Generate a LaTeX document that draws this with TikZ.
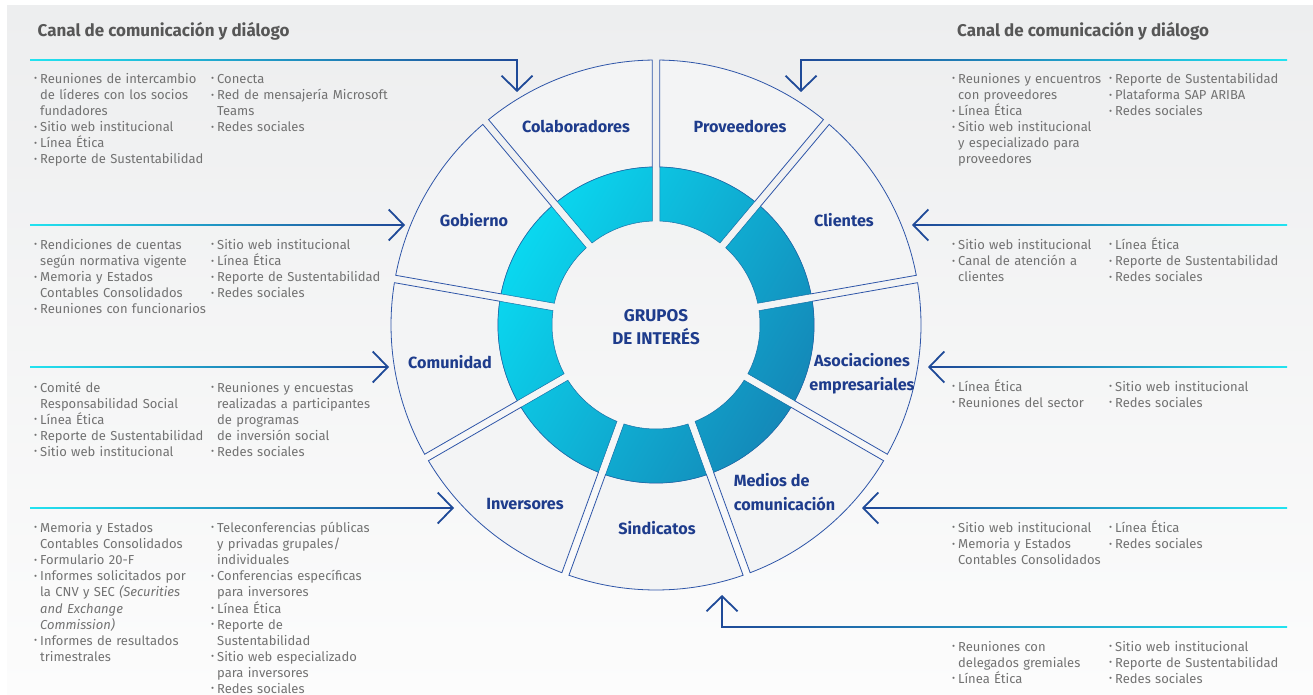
\documentclass[tikz,border=0pt]{standalone}
\usepackage{fontspec}
\setmainfont{Fira Sans}
\usepackage{graphicx}
\usetikzlibrary{arrows.meta}
\definecolor{gtxt}{HTML}{727272}
\definecolor{htxt}{HTML}{575757}
\definecolor{navytxt}{HTML}{1E3C8C}
\definecolor{outl}{HTML}{2E55A8}
\definecolor{lcyan}{HTML}{22E3F0}
\definecolor{lnavy}{HTML}{1F4A98}
\definecolor{ringA}{HTML}{0AD8F0}
\definecolor{ringB}{HTML}{1488B8}
\definecolor{ringE}{HTML}{1A72A8}
\definecolor{bgA}{HTML}{EDEEEF}
\definecolor{bgB}{HTML}{FCFCFC}
\definecolor{secfill}{HTML}{F3F4F5}
\newcommand\lbul{\makebox[6pt][l]{\raisebox{0.22ex}{\scalebox{0.72}{\textbullet}}}}
\newcommand\lind{\hspace*{6pt}}
\newcommand\hgrad[5]{\shade[left color=#4,right color=#5] (#1,#3-0.9) rectangle (#2,#3+0.9);}
\tikzset{
  lst/.style={anchor=base west, inner sep=0pt, text width=260pt, align=left, text=gtxt, font=\fontsize{13}{16.1}\selectfont},
  hdr/.style={anchor=base west, inner sep=0pt, text=htxt, font=\bfseries\fontsize{17}{20}\selectfont},
  seglab/.style={inner sep=0pt, text=navytxt, font=\bfseries\fontsize{16.2}{23.7}\selectfont, align=center},
  sector/.style={draw=outl, line width=0.8pt, fill=secfill},
  arrowline/.style={draw=lnavy, line width=1.8pt, -{Straight Barb[length=15pt,width=31pt]}}
}
\begin{document}
\begin{tikzpicture}[x=1pt,y=-1pt]
\useasboundingbox (0,0) rectangle (1313,695);
\fill[white] (0,0) rectangle (1313,695);
\shade[top color=bgA, bottom color=bgB] (7,6) rectangle (1313,695);

% wheel
\begin{scope}[shift={(656pt,-325pt)}, y=1pt]
  \pgfmathsetmacro\gA{asin(3.75/265)}
  \pgfmathsetmacro\gB{asin(3.75/158)}
  \pgfmathsetmacro\gC{asin(3.75/104)}
  \foreach \a in {10,50,...,330}{
    \draw[sector] ({\a+\gA}:265) arc[start angle={\a+\gA}, end angle={\a+40-\gA}, radius=265]
      -- ({\a+40-\gB}:158) arc[start angle={\a+40-\gB}, end angle={\a+\gB}, radius=158] -- cycle;
  }
  \shade[left color=ringA, right color=ringB, shading angle=60, draw=ringE, line width=0.5pt]
    \foreach \a in {10,50,...,330}{
      ({\a+\gB}:158) arc[start angle={\a+\gB}, end angle={\a+40-\gB}, radius=158]
      -- ({\a+40-\gC}:104) arc[start angle={\a+40-\gC}, end angle={\a+\gC}, radius=104] -- cycle
    };
\end{scope}

% segment labels
\node[seglab] (colab) at (576,126) {Colaboradores};
\node[seglab] (prov) at (740,126) {Proveedores};
\node[seglab] (gob) at (474,220) {Gobierno};
\node[seglab] (cli) at (844,220) {Clientes};
\node[seglab] (com) at (450,362) {Comunidad};
\node[seglab] (asoc) at (862,374) {Asociaciones\\empresariales};
\node[seglab] (inv) at (525,504) {Inversores};
\node[seglab] (sind) at (657,528) {Sindicatos};
\node[seglab, align=left, anchor=west] (med) at (733.6,492) {Medios de\\comunicación};
\node[seglab, font=\bfseries\fontsize{17}{23}\selectfont] (grupos) at (656,327) {GRUPOS\\DE INTERÉS};

% arrow tips
\coordinate (tL1) at (517,92);
\coordinate (tL2) at (405,225);
\coordinate (tL3) at (389,367);
\coordinate (tL4) at (454,508);
\coordinate (tR1) at (801,92);
\coordinate (tR2) at (912,225);
\coordinate (tR3) at (928,367);
\coordinate (tR4) at (862,508);
\coordinate (tR5) at (722,595);
\coordinate (sL1) at (517,59.1);
\coordinate (sL2) at (392,225);
\coordinate (sL3) at (376,367);
\coordinate (sL4) at (441,508);
\coordinate (sR1) at (801,59.1);
\coordinate (sR2) at (925,225);
\coordinate (sR3) at (941,367);
\coordinate (sR4) at (875,508);
\coordinate (sR5) at (722,627.9);

% connector lines
\hgrad{30}{517.9}{60}{lcyan}{lnavy}
\hgrad{30}{395}{225}{lcyan}{lnavy}
\hgrad{30}{379}{367}{lcyan}{lnavy}
\hgrad{30}{444}{508}{lcyan}{lnavy}
\hgrad{800.1}{1287}{60}{lnavy}{lcyan}
\hgrad{922}{1287}{225}{lnavy}{lcyan}
\hgrad{938}{1287}{367}{lnavy}{lcyan}
\hgrad{872}{1287}{508}{lnavy}{lcyan}
\hgrad{721.1}{1287}{627}{lnavy}{lcyan}
\draw[arrowline] (sL1) -- (tL1);
\draw[arrowline] (sL2) -- (tL2);
\draw[arrowline] (sL3) -- (tL3);
\draw[arrowline] (sL4) -- (tL4);
\draw[arrowline] (sR1) -- (tR1);
\draw[arrowline] (sR2) -- (tR2);
\draw[arrowline] (sR3) -- (tR3);
\draw[arrowline] (sR4) -- (tR4);
\draw[arrowline] (sR5) -- (tR5);

% headings
\node[hdr] (hl) at (37.5,36.5) {Canal de comunicación y diálogo};
\node[hdr] (hr) at (957,36.5) {Canal de comunicación y diálogo};

% left lists
\node[lst] (l1a) at (34,83.5) {\lbul Reuniones de intercambio\\ \lind de líderes con los socios\\ \lind fundadores\\ \lbul Sitio web institucional\\ \lbul Línea Ética\\ \lbul Reporte de Sustentabilidad};
\node[lst] (l1b) at (211,83.5) {\lbul Conecta\\ \lbul Red de mensajería Microsoft\\ \lind Teams\\ \lbul Redes sociales};
\node[lst] (l2a) at (34,249.5) {\lbul Rendiciones de cuentas\\ \lind según normativa vigente\\ \lbul Memoria y Estados\\ \lind Contables Consolidados\\ \lbul Reuniones con funcionarios};
\node[lst] (l2b) at (211,249.5) {\lbul Sitio web institucional\\ \lbul Línea Ética\\ \lbul Reporte de Sustentabilidad\\ \lbul Redes sociales};
\node[lst] (l3a) at (34,392) {\lbul Comité de\\ \lind Responsabilidad Social\\ \lbul Línea Ética\\ \lbul Reporte de Sustentabilidad\\ \lbul Sitio web institucional};
\node[lst] (l3b) at (211,392) {\lbul Reuniones y encuestas\\ \lind realizadas a participantes\\ \lind de programas\\ \lind de inversión social\\ \lbul Redes sociales};
\node[lst] (l4a) at (34,532.5) {\lbul Memoria y Estados\\ \lind Contables Consolidados\\ \lbul Formulario 20-F\\ \lbul Informes solicitados por\\ \lind la CNV y SEC \textit{(Securities}\\ \lind \textit{and Exchange}\\ \lind \textit{Commission)}\\ \lbul Informes de resultados\\ \lind trimestrales};
\node[lst] (l4b) at (211,532.5) {\lbul Teleconferencias públicas\\ \lind y privadas grupales/\\ \lind individuales\\ \lbul Conferencias específicas\\ \lind para inversores\\ \lbul Línea Ética\\ \lbul Reporte de\\ \lind Sustentabilidad\\ \lbul Sitio web especializado\\ \lind para inversores\\ \lbul Redes sociales};

% right lists
\node[lst] (r1a) at (952,83.5) {\lbul Reuniones y encuentros\\ \lind con proveedores\\ \lbul Línea Ética\\ \lbul Sitio web institucional\\ \lind y especializado para\\ \lind proveedores};
\node[lst] (r1b) at (1109,83.5) {\lbul Reporte de Sustentabilidad\\ \lbul Plataforma SAP ARIBA\\ \lbul Redes sociales};
\node[lst] (r2a) at (952,249.5) {\lbul Sitio web institucional\\ \lbul Canal de atención a\\ \lind clientes};
\node[lst] (r2b) at (1109,249.5) {\lbul Línea Ética\\ \lbul Reporte de Sustentabilidad\\ \lbul Redes sociales};
\node[lst] (r3a) at (952,391) {\lbul Línea Ética\\ \lbul Reuniones del sector};
\node[lst] (r3b) at (1109,391) {\lbul Sitio web institucional\\ \lbul Redes sociales};
\node[lst] (r4a) at (952,532.5) {\lbul Sitio web institucional\\ \lbul Memoria y Estados\\ \lind Contables Consolidados};
\node[lst] (r4b) at (1109,532.5) {\lbul Línea Ética\\ \lbul Redes sociales};
\node[lst] (r5a) at (952,651) {\lbul Reuniones con\\ \lind delegados gremiales\\ \lbul Línea Ética};
\node[lst] (r5b) at (1109,651) {\lbul Sitio web institucional\\ \lbul Reporte de Sustentabilidad\\ \lbul Redes sociales};
\end{tikzpicture}
\end{document}
